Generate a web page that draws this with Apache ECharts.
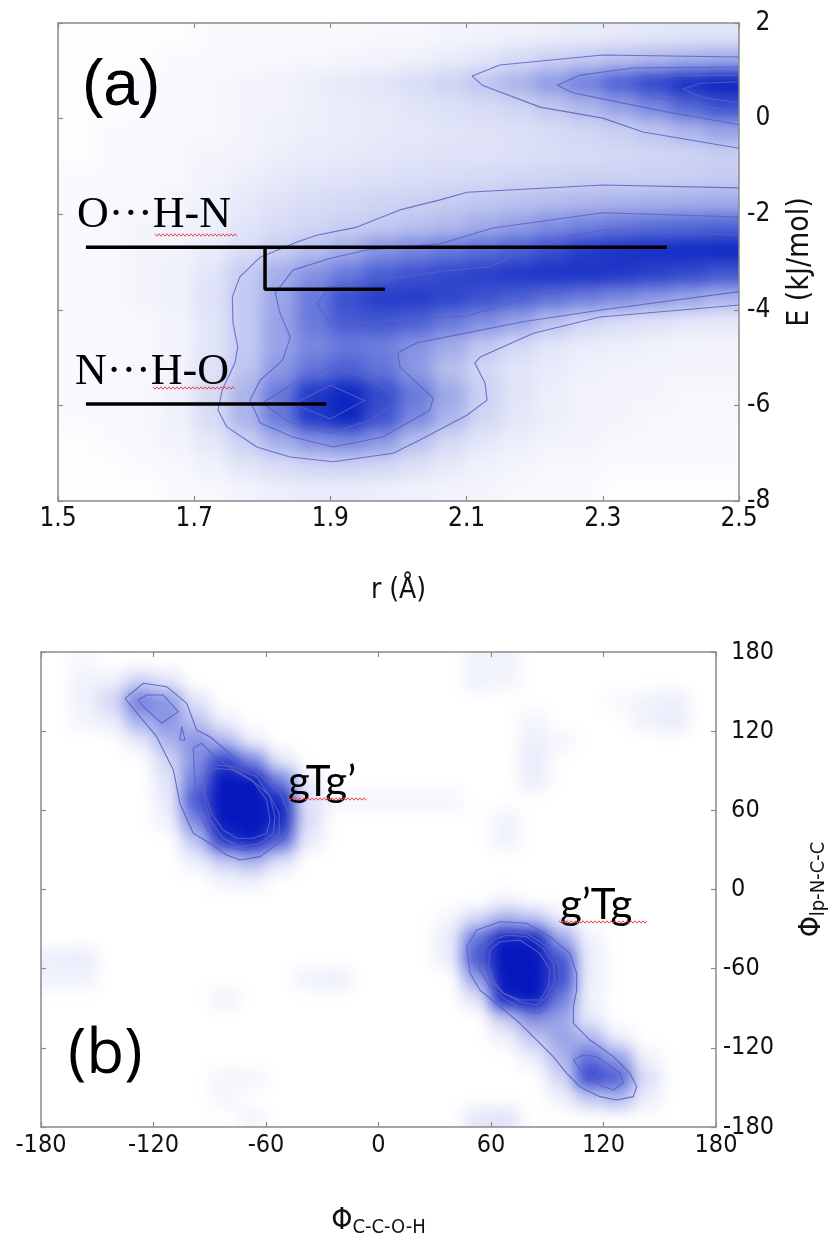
<!DOCTYPE html>
<html>
<head>
<meta charset="UTF-8">
<title>r-E map and dihedral map</title>
<script src="https://cdn.jsdelivr.net/npm/echarts@6/dist/echarts.min.js"></script>
<style>
  html, body { margin: 0; padding: 0; background: #fff; }
  #wrap { position: relative; width: 835px; height: 1238px; }
  #heat, #main { position: absolute; left: 0; top: 0; width: 835px; height: 1238px; }
  /* density layer: softened, then cut to the two plot boxes */
  #heat { filter: blur(8px); clip-path: path('M58 23 H739 V501 H58 Z M41 652 H716 V1127 H41 Z'); }
</style>
</head>
<body>
<div id="wrap">
  <div id="heat"></div>
  <div id="main"></div>
</div>
<script>
// ---------- panel (a): r (Å) vs E (kJ/mol) ----------
const rTicks = [1.5, 1.7, 1.9, 2.1, 2.3, 2.5];
const rCells = [1.525, 1.575, 1.625, 1.675, 1.725, 1.775, 1.825, 1.875, 1.925, 1.975,
                2.025, 2.075, 2.125, 2.175, 2.225, 2.275, 2.325, 2.375, 2.425, 2.475];
// rows of densA, from top (E = 1.75) to bottom (E = -7.75)
const eCells = [1.75, 1.25, 0.75, 0.25, -0.25, -0.75, -1.25, -1.75, -2.25, -2.75,
                -3.25, -3.75, -4.25, -4.75, -5.25, -5.75, -6.25, -6.75, -7.25, -7.75];
const densA = [
  [.01,.01,.01,.01,.02,.02,.02,.02,.02,.03,.03,.04,.05,.06,.07,.08,.09,.10,.11,.11],
  [.01,.01,.01,.02,.02,.02,.03,.03,.04,.05,.06,.08,.11,.15,.19,.22,.25,.28,.31,.33],
  [.01,.01,.02,.02,.03,.04,.05,.07,.09,.11,.14,.18,.23,.30,.39,.49,.61,.73,.87,.96],
  [.01,.01,.02,.02,.03,.04,.05,.07,.08,.09,.11,.13,.15,.18,.23,.29,.37,.47,.59,.69],
  [.01,.02,.02,.03,.03,.04,.06,.07,.08,.09,.10,.11,.12,.13,.15,.17,.20,.24,.30,.36],
  [.01,.02,.02,.03,.04,.05,.07,.08,.09,.10,.11,.12,.12,.13,.14,.15,.16,.17,.18,.20],
  [.02,.02,.03,.03,.05,.07,.09,.11,.12,.13,.14,.15,.16,.17,.18,.19,.19,.19,.20,.21],
  [.02,.03,.03,.04,.06,.09,.12,.14,.16,.18,.19,.21,.23,.25,.27,.29,.30,.31,.32,.33],
  [.02,.03,.04,.05,.07,.11,.15,.17,.20,.22,.25,.28,.33,.38,.44,.49,.53,.56,.58,.60],
  [.02,.03,.04,.05,.08,.14,.20,.26,.32,.42,.47,.52,.57,.62,.70,.78,.84,.88,.90,.92],
  [.02,.03,.04,.06,.11,.21,.32,.42,.52,.62,.68,.73,.77,.80,.84,.84,.80,.76,.72,.66],
  [.02,.03,.04,.06,.12,.22,.35,.52,.70,.78,.78,.74,.68,.62,.55,.50,.45,.40,.35,.30],
  [.02,.02,.03,.05,.11,.22,.36,.52,.64,.66,.62,.52,.44,.36,.25,.18,.14,.12,.10,.09],
  [.02,.02,.03,.05,.11,.22,.36,.46,.52,.50,.42,.33,.23,.16,.11,.08,.07,.06,.05,.05],
  [.02,.02,.03,.05,.12,.24,.40,.54,.62,.54,.40,.26,.17,.11,.08,.06,.05,.04,.04,.04],
  [.02,.02,.03,.06,.15,.30,.52,.80,.95,.72,.52,.34,.19,.11,.07,.05,.04,.04,.03,.03],
  [.02,.02,.03,.06,.15,.30,.52,.80,.96,.68,.46,.30,.17,.10,.07,.05,.04,.03,.03,.03],
  [.01,.02,.03,.05,.10,.20,.32,.42,.46,.40,.26,.16,.10,.07,.05,.04,.03,.03,.02,.02],
  [.01,.01,.02,.03,.06,.11,.15,.18,.19,.17,.13,.09,.06,.04,.03,.03,.02,.02,.02,.02],
  [.01,.01,.01,.02,.03,.05,.07,.08,.08,.07,.06,.05,.04,.03,.02,.02,.01,.01,.01,.01]
];
// contour lines [r, E]
const contoursA = [
  [[2.5,1.29],[2.3,1.33],[2.149,1.12],[2.108,0.89],[2.123,0.70],[2.208,0.24],[2.3,0.01],[2.359,-0.28],[2.5,-0.62]],
  [[2.5,1.08],[2.344,1.06],[2.267,0.91],[2.233,0.70],[2.256,0.54],[2.321,0.35],[2.394,0.14],[2.5,-0.13]],
  [[2.5,0.91],[2.374,0.89],[2.336,0.68],[2.374,0.45],[2.5,0.14]],
  [[2.5,0.77],[2.443,0.74],[2.418,0.62],[2.443,0.45],[2.5,0.33]],
  [[2.5,-1.45],[2.3,-1.39],[2.101,-1.54],[2.061,-1.70],[2.002,-1.91],[1.939,-2.27],[1.88,-2.44],[1.851,-2.58],
   [1.797,-2.90],[1.767,-3.31],[1.756,-3.73],[1.757,-4.28],[1.764,-4.78],[1.760,-5.11],[1.741,-5.68],[1.735,-6.10],
   [1.748,-6.45],[1.792,-6.87],[1.841,-7.08],[1.904,-7.18],[1.992,-7.0],[2.032,-6.72],[2.101,-6.20],[2.130,-5.89],
   [2.127,-5.53],[2.112,-5.11],[2.120,-4.99],[2.198,-4.49],[2.296,-4.15],[2.5,-3.9]],
  [[2.5,-2.06],[2.3,-1.97],[2.139,-2.29],[2.061,-2.62],[1.954,-2.75],[1.9,-2.92],[1.845,-3.17],[1.819,-3.65],
   [1.826,-4.07],[1.841,-4.57],[1.830,-5.05],[1.797,-5.47],[1.782,-5.89],[1.797,-6.37],[1.845,-6.66],[1.904,-6.87],
   [1.977,-6.66],[2.046,-6.10],[2.051,-5.85],[2.002,-5.20],[1.999,-4.9],[2.027,-4.69],[2.076,-4.55],[2.183,-4.25],
   [2.3,-4.0],[2.5,-3.62]],
  [[2.5,-2.44],[2.3,-2.33],[2.237,-2.5],[2.189,-2.75],[2.134,-3.1],[2.061,-3.2],[1.9,-3.52],[1.88,-3.86],
   [1.9,-4.3],[2.0,-4.22],[2.1,-4.13],[2.208,-3.69],[2.3,-3.52],[2.5,-3.31]],
  [[1.80,-5.95],[1.85,-5.5],[1.9,-5.2],[1.96,-5.45],[2.0,-5.9],[1.96,-6.3],[1.9,-6.58],[1.84,-6.35],[1.80,-5.95]],
  [[1.845,-5.97],[1.9,-5.58],[1.95,-5.9],[1.9,-6.28],[1.845,-5.97]]
];
// black marker lines [r, E]
const markerOHN = [[1.541,-2.69],[2.394,-2.69]];
const markerOHNStep = [[1.804,-2.69],[1.804,-3.57],[1.980,-3.57]];
const markerNHO = [[1.541,-5.97],[1.894,-5.97]];

// ---------- panel (b): dihedral map ----------
const phiStep = 60;
// non-empty 15-degree cells [Phi C-C-O-H, Phi lp-N-C-C, density]
const densB = [
  [-157.5,172.5,.02],[52.5,172.5,.04],[67.5,172.5,.04],
  [-157.5,157.5,.04],[-142.5,157.5,.05],[-127.5,157.5,.14],[-112.5,157.5,.08],[52.5,157.5,.04],[67.5,157.5,.03],
  [-157.5,142.5,.04],[-142.5,142.5,.12],[-127.5,142.5,.42],[-112.5,142.5,.32],[-97.5,142.5,.08],[127.5,142.5,.02],[142.5,142.5,.04],[157.5,142.5,.05],
  [-157.5,127.5,.03],[-142.5,127.5,.05],[-127.5,127.5,.24],[-112.5,127.5,.34],[-97.5,127.5,.18],[-82.5,127.5,.05],[82.5,127.5,.03],[142.5,127.5,.04],[157.5,127.5,.06],
  [-127.5,112.5,.06],[-112.5,112.5,.22],[-97.5,112.5,.35],[-82.5,112.5,.22],[-67.5,112.5,.05],[82.5,112.5,.05],[97.5,112.5,.03],
  [-112.5,97.5,.12],[-97.5,97.5,.34],[-82.5,97.5,.65],[-67.5,97.5,.38],[-52.5,97.5,.07],[82.5,97.5,.06],
  [-112.5,82.5,.08],[-97.5,82.5,.42],[-82.5,82.5,1],[-67.5,82.5,1],[-52.5,82.5,.40],[-37.5,82.5,.05],[82.5,82.5,.05],
  [-112.5,67.5,.06],[-97.5,67.5,.55],[-82.5,67.5,1],[-67.5,67.5,1],[-52.5,67.5,.78],[-37.5,67.5,.08],
  [-22.5,67.5,.03],[-7.5,67.5,.03],[7.5,67.5,.03],[22.5,67.5,.03],[37.5,67.5,.03],
  [-112.5,52.5,.04],[-97.5,52.5,.38],[-82.5,52.5,1],[-67.5,52.5,1],[-52.5,52.5,.82],[-37.5,52.5,.10],[67.5,52.5,.04],
  [-97.5,37.5,.18],[-82.5,37.5,.72],[-67.5,37.5,.95],[-52.5,37.5,.52],[-37.5,37.5,.06],[67.5,37.5,.04],
  [-97.5,22.5,.05],[-82.5,22.5,.16],[-67.5,22.5,.24],[-52.5,22.5,.10],
  [-82.5,7.5,.04],[-67.5,7.5,.05],
  [67.5,-7.5,.03],
  [37.5,-22.5,.03],[52.5,-22.5,.12],[67.5,-22.5,.24],[82.5,-22.5,.18],[97.5,-22.5,.06],
  [37.5,-37.5,.06],[52.5,-37.5,.45],[67.5,-37.5,.95],[82.5,-37.5,.90],[97.5,-37.5,.28],[112.5,-37.5,.04],
  [-172.5,-52.5,.05],[-157.5,-52.5,.06],[37.5,-52.5,.05],[52.5,-52.5,.55],[67.5,-52.5,1],[82.5,-52.5,1],[97.5,-52.5,.55],[112.5,-52.5,.05],
  [-172.5,-67.5,.04],[-157.5,-67.5,.04],[-37.5,-67.5,.04],[-22.5,-67.5,.05],[52.5,-67.5,.30],[67.5,-67.5,1],[82.5,-67.5,1],[97.5,-67.5,.58],[112.5,-67.5,.05],
  [-82.5,-82.5,.04],[52.5,-82.5,.08],[67.5,-82.5,.85],[82.5,-82.5,1],[97.5,-82.5,.42],[112.5,-82.5,.04],
  [67.5,-97.5,.16],[82.5,-97.5,.36],[97.5,-97.5,.28],[112.5,-97.5,.06],
  [67.5,-112.5,.04],[82.5,-112.5,.16],[97.5,-112.5,.28],[112.5,-112.5,.22],[127.5,-112.5,.05],
  [82.5,-127.5,.05],[97.5,-127.5,.22],[112.5,-127.5,.46],[127.5,-127.5,.30],[142.5,-127.5,.04],
  [-82.5,-142.5,.03],[-67.5,-142.5,.03],[97.5,-142.5,.12],[112.5,-142.5,.62],[127.5,-142.5,.52],[142.5,-142.5,.10],
  [-82.5,-157.5,.03],[97.5,-157.5,.04],[112.5,-157.5,.16],[127.5,-157.5,.22],[142.5,-157.5,.06],
  [-67.5,-172.5,.03],[52.5,-172.5,.07],[67.5,-172.5,.08]
];
// contour lines [Phi C-C-O-H, Phi lp-N-C-C]
const contoursB = [
  [[-135.2,144.9],[-125.4,156.3],[-113.0,153.7],[-102.3,141.1],[-97.0,120.9],[-89.9,115.8],[-77.4,100.6],[-66.8,90.6],
   [-52.5,72.9],[-47.2,55.2],[-49.0,40.0],[-56.1,32.4],[-63.2,24.9],[-73.9,22.4],[-81.0,26.1],[-89.9,35.0],[-98.8,42.6],
   [-105.9,65.3],[-109.4,90.6],[-118.3,115.8],[-127.2,131.0],[-135.2,144.9]],
  [[-128.1,143.6],[-123.6,147.4],[-114.8,147.4],[-106.8,134.8],[-115.6,126.0],[-125.4,138.5],[-128.1,143.6]],
  [[-105.0,123.4],[-103.2,113.3],[-105.9,113.3],[-105.0,123.4]],
  [[-98.8,107.0],[-94.3,110.8],[-88.1,101.9],[-79.2,92.5],[-68.5,84.0],[-58.5,72.0],[-53.0,58.0],[-53.0,42.6],
   [-58.5,34.5],[-70.3,29.5],[-81.0,32.0],[-89.9,42.6],[-96.1,57.8],[-97.9,80.5],[-98.8,107.0]],
  [[-91.6,90.6],[-86.3,94.4],[-77.4,93.1],[-65.0,85.5],[-57.9,70.4],[-55.2,55.2],[-56.1,42.6],[-63.2,35.0],
   [-73.9,32.4],[-82.8,38.8],[-89.9,52.7],[-93.4,72.9],[-91.6,90.6]],
  [[-91.6,88.1],[-86.3,91.9],[-77.4,90.6],[-66.8,81.7],[-59.6,67.8],[-57.9,52.7],[-59.6,42.6],[-66.8,38.8],
   [-75.6,38.8],[-82.8,45.1],[-89.0,57.8],[-92.5,72.9],[-91.6,88.1]],
  [[47.0,-43.4],[52.4,-30.7],[64.8,-24.4],[79.0,-25.6],[91.5,-35.8],[102.1,-48.4],[105.7,-63.5],[105.7,-76.2],
   [103.9,-88.8],[103.9,-101.4],[112.8,-114.1],[125.2,-126.7],[134.1,-139.3],[137.7,-149.5],[135.9,-157.0],
   [127.0,-159.5],[118.1,-157.0],[107.4,-149.5],[100.4,-139.3],[93.2,-126.7],[84.4,-114.1],[75.4,-101.4],
   [64.8,-88.8],[54.1,-76.2],[48.8,-63.5],[47.0,-43.4]],
  [[52.4,-45.9],[57.7,-35.8],[66.6,-32.0],[79.0,-33.2],[89.7,-43.4],[95.9,-56.0],[96.8,-68.6],[93.2,-81.3],
   [86.1,-93.9],[77.2,-91.3],[68.4,-83.8],[59.5,-73.7],[54.1,-61.1],[52.4,-45.9]],
  [[103.9,-129.2],[109.2,-125.4],[116.4,-126.7],[128.8,-139.3],[130.6,-146.9],[125.2,-152.0],[118.1,-148.2],
   [109.2,-139.3],[103.9,-129.2]],
  [[55.9,-45.9],[61.2,-38.3],[68.4,-34.5],[79.0,-35.8],[87.9,-44.6],[93.2,-56.0],[94.1,-68.6],[89.7,-81.3],
   [84.4,-87.6],[75.4,-85.1],[66.6,-78.7],[59.5,-68.6],[55.9,-56.0],[55.9,-45.9]],
  [[111.0,-136.8],[116.4,-133.0],[118.1,-139.3],[114.6,-143.1],[111.0,-136.8]],
  [[59.5,-45.9],[64.8,-39.6],[75.4,-38.3],[86.1,-48.4],[91.5,-61.0],[90.6,-73.7],[86.1,-83.8],[75.4,-83.8],
   [66.6,-78.7],[61.2,-68.6],[58.6,-57.2],[59.5,-45.9]]
];

// ---------- shared settings ----------
const tickFont = "'DejaVu Sans Condensed', 'DejaVu Sans', sans-serif";
const axisGrey = '#8a8a8a';
const contourColor = '#5a60c4';
const grids = [
  { left: 58, top: 23, width: 681, height: 478, containLabel: false, outerBoundsMode: 'none' },
  { left: 41, top: 652, width: 675, height: 475, containLabel: false, outerBoundsMode: 'none' }
];
const rangeA = { x: [1.5, 2.5], y: [-8, 2], dx: 0.05, dy: 0.5 };
const rangeB = { x: [-180, 180], y: [-180, 180], dx: 15, dy: 15 };

const cellsA = [];
densA.forEach((row, i) => row.forEach((v, j) => cellsA.push([rCells[j], eCells[i], v])));

// one rectangle per cell; cells on the frame are stretched past it so the blur keeps the edge colour
function cellRenderer(rg) {
  return function (params, api) {
    const x = api.value(0), y = api.value(1);
    const x0 = x - rg.dx / 2, x1 = x + rg.dx / 2, y0 = y - rg.dy / 2, y1 = y + rg.dy / 2;
    const p0 = api.coord([x0, y1]), p1 = api.coord([x1, y0]);
    let left = p0[0], top = p0[1], right = p1[0], bottom = p1[1];
    const pad = 30, eps = 1e-6;
    if (x0 <= rg.x[0] + eps) left -= pad;
    if (x1 >= rg.x[1] - eps) right += pad;
    if (y1 >= rg.y[1] - eps) top -= pad;
    if (y0 <= rg.y[0] + eps) bottom += pad;
    return { type: 'rect', shape: { x: left, y: top, width: right - left + 0.8, height: bottom - top + 0.8 },
             style: { fill: api.visual('color') } };
  };
}

// ---------- density layer ----------
const heat = echarts.init(document.getElementById('heat'));
heat.setOption({
  animation: false,
  backgroundColor: '#fff',
  grid: grids,
  xAxis: [
    { type: 'value', gridIndex: 0, min: 1.5, max: 2.5, show: false },
    { type: 'value', gridIndex: 1, min: -180, max: 180, show: false }
  ],
  yAxis: [
    { type: 'value', gridIndex: 0, min: -8, max: 2, show: false },
    { type: 'value', gridIndex: 1, min: -180, max: 180, show: false }
  ],
  visualMap: [
    { type: 'continuous', show: false, seriesIndex: 0, dimension: 2, min: 0, max: 1,
      inRange: { color: ['#ffffff', '#c9cff2', '#8c98e4', '#5064d6', '#2138c8', '#0520bd'] } },
    { type: 'continuous', show: false, seriesIndex: 1, dimension: 2, min: 0, max: 1,
      inRange: { color: ['#ffffff', '#b4bcee', '#7380de', '#3548cf', '#1226c3', '#0517bd'] } }
  ],
  series: [
    { type: 'custom', xAxisIndex: 0, yAxisIndex: 0, data: cellsA, renderItem: cellRenderer(rangeA), silent: true },
    { type: 'custom', xAxisIndex: 1, yAxisIndex: 1, data: densB, renderItem: cellRenderer(rangeB), silent: true }
  ]
});

// ---------- frame, contours, labels ----------
function sideLabel(v) { return v < 0 ? String(v) : '{h|-}' + v; }   // digits stay aligned, minus hangs left

function frameAxis(extra) {
  return Object.assign({
    type: 'value',
    axisLine: { onZero: false, lineStyle: { color: axisGrey, width: 1.5 } },
    axisTick: { inside: true, length: 5, lineStyle: { color: axisGrey, width: 1.2 } },
    axisLabel: { show: false },
    splitLine: { show: false }
  }, extra);
}
function squiggle(x0, x1, y) {
  const pts = [];
  for (let x = x0, k = 0; x <= x1; x += 2, k++) pts.push([x, y + (k % 2 ? 1.2 : -1.2)]);
  return { type: 'polyline', shape: { points: pts }, style: { stroke: '#e8474a', lineWidth: 1, fill: null }, z: 20 };
}
function note(text, x, y, font) {
  return { type: 'text', x: x, y: y, z: 20,
           style: { text: text, font: font, fill: '#000', verticalAlign: 'middle', textVerticalAlign: 'middle' } };
}

const series = [];
contoursA.forEach(c => series.push({
  type: 'line', xAxisIndex: 0, yAxisIndex: 0, data: c, symbol: 'none', silent: true, z: 3,
  lineStyle: { color: contourColor, width: 1.1, opacity: 0.85 }
}));
contoursB.forEach(c => series.push({
  type: 'line', xAxisIndex: 2, yAxisIndex: 2, data: c, symbol: 'none', silent: true, z: 3,
  lineStyle: { color: contourColor, width: 1.1, opacity: 0.9 }
}));
[markerOHN, markerOHNStep, markerNHO].forEach(m => series.push({
  type: 'line', xAxisIndex: 0, yAxisIndex: 0, data: m, symbol: 'none', silent: true, z: 5,
  lineStyle: { color: '#000', width: 3.5, cap: 'butt' }
}));

const chart = echarts.init(document.getElementById('main'));
chart.setOption({
  animation: false,
  backgroundColor: 'transparent',
  grid: grids,
  xAxis: [
    frameAxis({
      gridIndex: 0, min: 1.5, max: 2.5, position: 'bottom',
      axisTick: { inside: true, length: 5, customValues: rTicks, lineStyle: { color: axisGrey, width: 1.2 } },
      axisLabel: { customValues: rTicks, formatter: v => v.toFixed(1), margin: 5,
                   color: '#111', fontSize: 26, fontFamily: tickFont },
      name: 'r (Å)', nameLocation: 'middle', nameGap: 76,
      nameTextStyle: { color: '#111', fontSize: 28, fontFamily: tickFont }
    }),
    frameAxis({
      gridIndex: 0, min: 1.5, max: 2.5, position: 'top',
      axisTick: { inside: true, length: 5, customValues: rTicks, lineStyle: { color: axisGrey, width: 1.2 } }
    }),
    frameAxis({
      gridIndex: 1, min: -180, max: 180, interval: phiStep, position: 'bottom',
      axisLabel: { margin: 6, color: '#111', fontSize: 25, fontFamily: tickFont },
      name: '{p|Φ}{s|C-C-O-H}', nameLocation: 'middle', nameGap: 77,
      nameTextStyle: { rich: {
        p: { fontSize: 30, fontFamily: tickFont, color: '#111' },
        s: { fontSize: 20, fontFamily: tickFont, color: '#111', padding: [14, 0, 0, 0] }
      } }
    }),
    frameAxis({ gridIndex: 1, min: -180, max: 180, interval: phiStep, position: 'top' })
  ],
  yAxis: [
    frameAxis({
      gridIndex: 0, min: -8, max: 2, interval: 2, position: 'right',
      axisLabel: { formatter: sideLabel, margin: 8, align: 'left', color: '#111', fontSize: 26, fontFamily: tickFont,
                   rich: { h: { color: 'rgba(0,0,0,0)', fontSize: 26, fontFamily: tickFont } } },
      name: 'E (kJ/mol)', nameLocation: 'middle', nameRotate: 90, nameGap: 46,
      nameTextStyle: { color: '#111', fontSize: 30, fontFamily: tickFont }
    }),
    frameAxis({ gridIndex: 0, min: -8, max: 2, interval: 2, position: 'left' }),
    frameAxis({
      gridIndex: 1, min: -180, max: 180, interval: phiStep, position: 'right',
      axisLabel: { formatter: sideLabel, margin: 7, align: 'left', color: '#111', fontSize: 25, fontFamily: tickFont,
                   rich: { h: { color: 'rgba(0,0,0,0)', fontSize: 25, fontFamily: tickFont } } },
      name: '{p|Φ}{s|lp-N-C-C}', nameLocation: 'middle', nameRotate: 90, nameGap: 79,
      nameTextStyle: { rich: {
        p: { fontSize: 30, fontFamily: tickFont, color: '#111' },
        s: { fontSize: 20, fontFamily: tickFont, color: '#111', padding: [14, 0, 0, 0] }
      } }
    }),
    frameAxis({ gridIndex: 1, min: -180, max: 180, interval: phiStep, position: 'left' })
  ],
  series: series,
  graphic: [
    note('(a)', 82, 87, "64px 'Liberation Sans'"),
    note('O···H-N', 77, 215, "44px 'Liberation Serif'"),
    note('N···H-O', 75, 372, "44px 'Liberation Serif'"),
    note('(b)', 68, 1055, "62px 'Open Sans'"),
    note('gTg’', 288, 782, "42px Lato"),
    note('g’Tg', 560, 905, "42px Lato"),
    squiggle(155, 237, 235),
    squiggle(153, 235, 388),
    squiggle(288, 367, 799),
    squiggle(559, 648, 922)
  ]
});
</script>
</body>
</html>
